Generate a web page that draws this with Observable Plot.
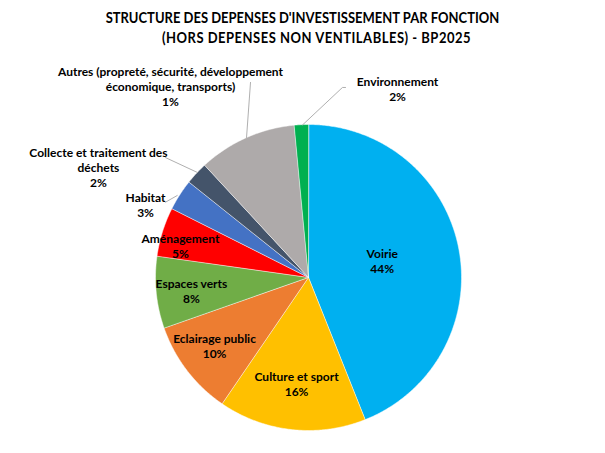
<!DOCTYPE html>
<html><head><meta charset="utf-8">
<script src="https://cdn.jsdelivr.net/npm/d3@7"></script>
<script src="https://cdn.jsdelivr.net/npm/@observablehq/plot@0.6"></script>
<style>
body{margin:0;background:#fff;font-family:Lato, sans-serif;}
#title{width:605px;height:50px;box-sizing:border-box;padding-top:7px;text-align:center;font-weight:bold;font-size:13px;line-height:20px;color:#000;}
#title div{transform:scaleY(1.1);}
</style></head><body>
<div id="title"><div>STRUCTURE DES DEPENSES D'INVESTISSEMENT PAR FONCTION</div><div style="padding-left:28px;letter-spacing:0.5px">(HORS DEPENSES NON VENTILABLES) - BP2025</div></div>
<div id="chart"></div>
<script>
const categories = ["Voirie","Culture et sport","Eclairage public","Espaces verts","Aménagement","Habitat","Collecte et traitement des\ndéchets","Autres (propreté, sécurité, développement\néconomique, transports)","Environnement"];
const shares = [44.0, 15.6, 10.1, 7.6, 5.2, 3.3, 2.4, 10.4, 1.5];
const percentLabels = ["44%","16%","10%","8%","5%","3%","2%","1%","2%"];
const colors = ["#00B0F0","#FFC000","#ED7D31","#70AD47","#FF0000","#4472C4","#44546A","#AEAAAA","#00B050"];

// layout: label centres and leader lines, in pie-radius units
const labelPos = [[0.482,0.111],[-0.078,-0.693],[-0.614,-0.444],[-0.765,-0.085],[-0.837,0.209],[-1.065,0.477],[-1.373,0.719],[-0.902,1.248],[0.582,1.235]];
const leaders = [
  {id:"hab", pts:[[-0.935,0.492],[-0.858,0.536]]},
  {id:"col", pts:[[-0.935,0.784],[-0.725,0.686]]},
  {id:"aut", pts:[[-0.379,1.275],[-0.405,0.915]]},
  {id:"env", pts:[[0.242,1.242],[0.222,1.242],[-0.039,0.997]]}
];

const total = d3.sum(shares);
const slicePts = [];
let acc = 0;
shares.forEach((v, i) => {
  const a0 = acc / total * 2 * Math.PI;
  acc += v;
  const a1 = acc / total * 2 * Math.PI;
  slicePts.push({name: categories[i], color: colors[i], x: 0, y: 0});
  const n = Math.max(2, Math.ceil((a1 - a0) / (Math.PI / 360)));
  for (let k = 0; k <= n; k++) {
    const a = a0 + (a1 - a0) * k / n;
    slicePts.push({name: categories[i], color: colors[i], x: Math.sin(a), y: Math.cos(a)});
  }
});
const labels = categories.map((c, i) => ({text: c + "\n" + percentLabels[i], x: labelPos[i][0], y: labelPos[i][1]}));
const leaderPts = leaders.flatMap(l => l.pts.map(p => ({id: l.id, x: p[0], y: p[1]})));

const R = 153, cx = 308, cy = 227;
const chart = Plot.plot({
  width: 605, height: 403, margin: 0,
  style: {fontFamily: "Lato, sans-serif", background: "white"},
  x: {domain: [-1, 1], range: [cx - R, cx + R], axis: null},
  y: {domain: [-1, 1], range: [cy + R, cy - R], axis: null},
  color: {type: "identity"},
  marks: [
    Plot.line(slicePts, {x: "x", y: "y", z: "name", fill: "color", stroke: "white", strokeWidth: 0.5, curve: "linear-closed"}),
    Plot.line(leaderPts, {x: "x", y: "y", z: "id", stroke: "#a6a6a6", strokeWidth: 0.9}),
    Plot.text(labels, {x: "x", y: "y", text: "text", fontWeight: "bold", fontSize: 12, lineHeight: 1.25, fill: "#000"})
  ]
});
document.getElementById("chart").appendChild(chart);
</script>
</body></html>
